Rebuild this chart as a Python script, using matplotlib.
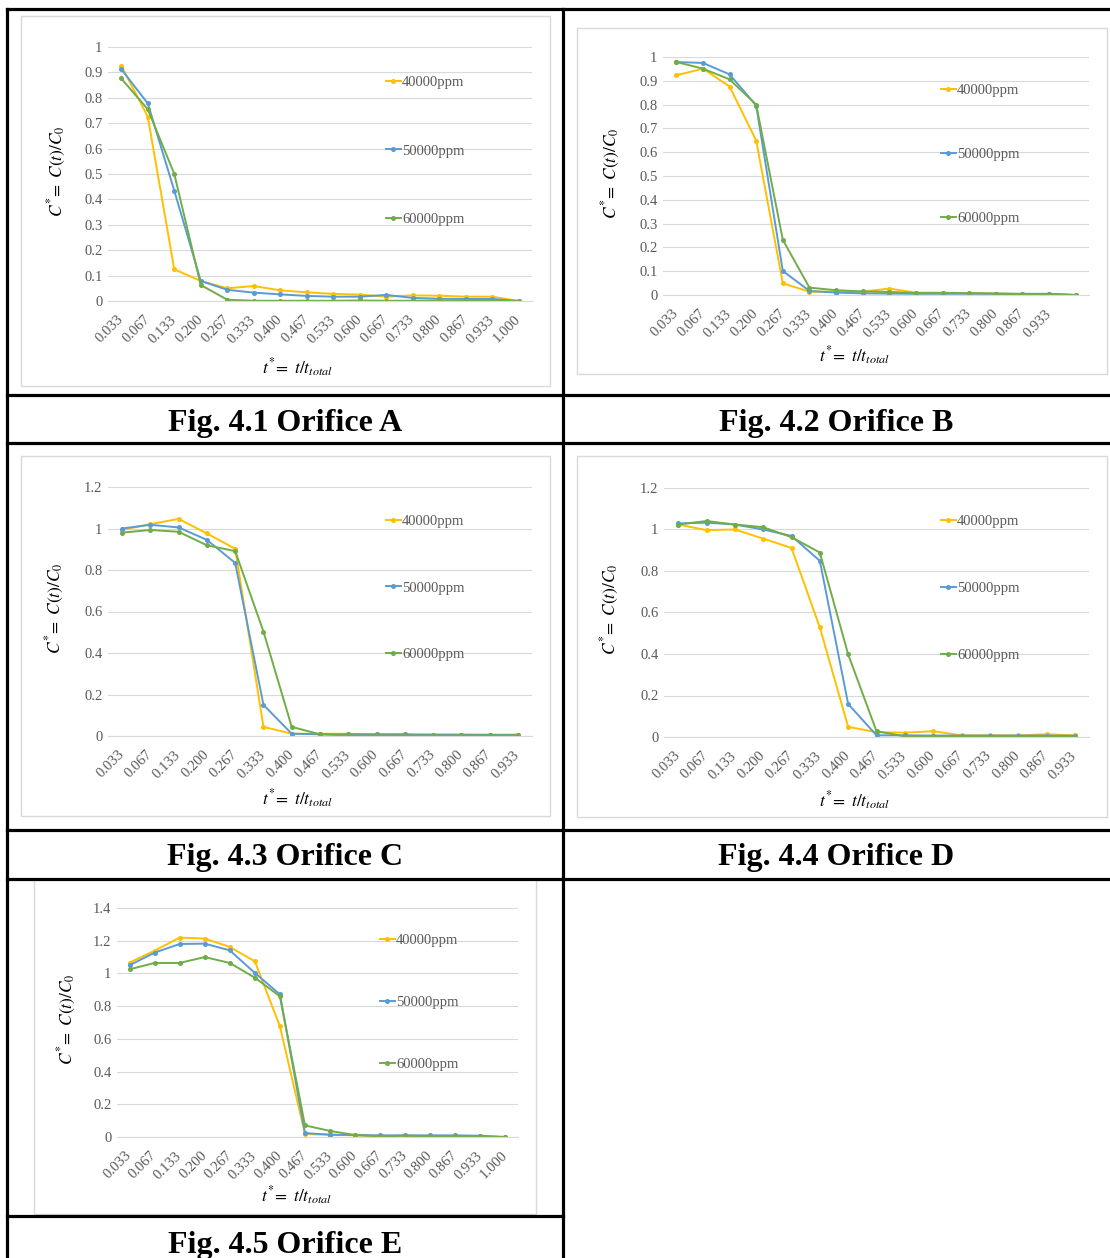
import matplotlib
matplotlib.use("Agg")
import matplotlib.pyplot as plt
from matplotlib.lines import Line2D
from matplotlib.patches import Rectangle

plt.rcParams['font.family'] = ['Liberation Serif', 'DejaVu Serif']
plt.rcParams['mathtext.fontset'] = 'stix'

W, H = 1110, 1258

# category labels (t* = t / t_total)
cats = ["0.033", "0.067", "0.133", "0.200", "0.267", "0.333", "0.400", "0.467",
        "0.533", "0.600", "0.667", "0.733", "0.800", "0.867", "0.933", "1.000"]
cats_b = cats[:15] + [""]
cats_cd = cats[:15]

series_names = ["40000ppm", "50000ppm", "60000ppm"]
colors = ["#FFC000", "#5B9BD5", "#70AD47"]

# Orifice A
a_40k = [0.927, 0.726, 0.125, 0.079, 0.050, 0.059, 0.042, 0.034, 0.028, 0.025, 0.017, 0.022, 0.021, 0.017, 0.017, 0.0]
a_50k = [0.913, 0.778, 0.435, 0.079, 0.044, 0.033, 0.026, 0.020, 0.017, 0.017, 0.024, 0.012, 0.009, 0.008, 0.008, 0.0]
a_60k = [0.876, 0.755, 0.501, 0.063, 0.005, 0.001, 0.001, 0.001, 0.001, 0.002, 0.001, 0.001, 0.002, 0.001, 0.001, 0.0]
# Orifice B
b_40k = [0.923, 0.951, 0.876, 0.649, 0.049, 0.014, 0.014, 0.014, 0.027, 0.010, 0.010, 0.008, 0.006, 0.004, 0.004, 0.0]
b_50k = [0.979, 0.975, 0.927, 0.796, 0.101, 0.017, 0.010, 0.007, 0.006, 0.005, 0.005, 0.005, 0.005, 0.005, 0.005, 0.0]
b_60k = [0.979, 0.951, 0.906, 0.800, 0.232, 0.031, 0.020, 0.015, 0.013, 0.008, 0.008, 0.008, 0.006, 0.004, 0.004, 0.0]
# Orifice C
c_40k = [0.993, 1.021, 1.046, 0.976, 0.902, 0.044, 0.011, 0.011, 0.011, 0.008, 0.008, -0.002, 0.005, 0.007, 0.007]
c_50k = [1.000, 1.018, 1.005, 0.945, 0.834, 0.150, 0.011, 0.008, 0.008, 0.008, 0.008, 0.007, 0.007, 0.005, 0.004]
c_60k = [0.980, 0.993, 0.984, 0.919, 0.891, 0.503, 0.044, 0.008, 0.003, 0.003, 0.003, 0.003, 0.003, 0.003, 0.003]
# Orifice D
d_40k = [1.024, 0.997, 1.000, 0.956, 0.911, 0.528, 0.049, 0.023, 0.021, 0.028, 0.008, 0.008, 0.008, 0.013, 0.008]
d_50k = [1.029, 1.033, 1.024, 1.000, 0.969, 0.849, 0.159, 0.008, 0.008, 0.007, 0.007, 0.007, 0.007, 0.007, 0.006]
d_60k = [1.024, 1.041, 1.024, 1.011, 0.963, 0.889, 0.398, 0.028, 0.003, 0.003, 0.003, 0.000, 0.002, 0.000, 0.002]
# Orifice E
e_40k = [1.066, 1.139, 1.219, 1.213, 1.162, 1.074, 0.677, 0.018, 0.014, 0.010, 0.006, 0.008, 0.006, 0.006, 0.000, 0.000]
e_50k = [1.050, 1.127, 1.180, 1.182, 1.141, 1.003, 0.872, 0.024, 0.014, 0.012, 0.010, 0.010, 0.010, 0.010, 0.008, 0.000]
e_60k = [1.025, 1.064, 1.064, 1.100, 1.064, 0.974, 0.860, 0.071, 0.037, 0.012, 0.004, 0.008, 0.004, 0.004, 0.004, 0.000]

captions = ["Fig. 4.1 Orifice A", "Fig. 4.2 Orifice B", "Fig. 4.3 Orifice C",
            "Fig. 4.4 Orifice D", "Fig. 4.5 Orifice E"]


def frac(x0, y0, x1, y1):
    return [x0 / W, 1 - y1 / H, (x1 - x0) / W, (y1 - y0) / H]


fig = plt.figure(figsize=(W / 100, H / 100), dpi=100)


def chart(frame, plot, labels, data, ymax, ystep, leg_xy, leg_gap, ylab_x, xlab_xy):
    # light gray chart-area border
    fx0, fy0, fx1, fy1 = frame
    fig.add_artist(Rectangle((fx0 / W, 1 - fy1 / H), (fx1 - fx0) / W, (fy1 - fy0) / H,
                             transform=fig.transFigure, fill=False,
                             edgecolor="#d9d9d9", linewidth=1.0))
    ax = fig.add_axes(frac(*plot))
    for vals, c, name in zip(data, colors, series_names):
        ax.plot(range(len(vals)), vals, color=c, lw=1.4, marker="o", ms=2.6, label=name)
    ax.set_xlim(-0.5, len(labels) - 0.5)
    ax.set_ylim(0, ymax)
    n = int(round(ymax / ystep))
    yt = [i * ystep for i in range(n + 1)]
    ax.set_yticks(yt)
    ax.set_yticklabels([f"{round(v, 1):g}" for v in yt], fontsize=10.5, color="#595959")
    ax.set_xticks(range(len(labels)))
    ax.set_xticklabels(labels, rotation=45, ha="right", va="center",
                       rotation_mode="anchor", fontsize=10.5, color="#595959")
    ax.tick_params(length=0, axis="both")
    ax.tick_params(axis="x", pad=12)
    ax.tick_params(axis="y", pad=4)
    ax.grid(axis="y", color="#d9d9d9", lw=0.8)
    ax.set_axisbelow(True)
    for s in ["top", "right", "left"]:
        ax.spines[s].set_visible(False)
    ax.spines["bottom"].set_color("#d9d9d9")
    ax.spines["bottom"].set_linewidth(0.8)
    ax.patch.set_alpha(0)
    # axis titles
    pcy = (plot[1] + plot[3]) / 2
    fig.text(ylab_x / W, 1 - (pcy - 3) / H, r"$C^{*}\!=\ C(t)/C_0$", rotation=90,
             ha="center", va="center", fontsize=12.5)
    fig.text(xlab_xy[0] / W, 1 - xlab_xy[1] / H, r"$t^{*}\!=\ t/t_{total}$",
             ha="center", va="center", fontsize=12.5)
    # legend
    lx, ly = leg_xy
    handles = [Line2D([0], [0], color=c, lw=1.4, marker="o", ms=2.6) for c in colors]
    fs = 10.5 * 100 / 72
    ax.legend(handles, series_names, loc="upper left", frameon=False,
              bbox_to_anchor=(lx / W, 1 - (ly - 6) / H), bbox_transform=fig.transFigure,
              fontsize=10.5, labelcolor="#595959", handlelength=1.0, handletextpad=0.1,
              labelspacing=(leg_gap - 0.85 * fs) / fs, borderpad=0, borderaxespad=0)
    return ax


chart((21, 16, 550, 386), (108, 47, 532, 301), cats, [a_40k, a_50k, a_60k],
      1.0, 0.1, (386, 82), 67.5, 57, (298, 368))
chart((577, 28, 1107, 374), (663, 57, 1089, 295), cats_b, [b_40k, b_50k, b_60k],
      1.0, 0.1, (941, 90), 63, 611, (855, 356))
chart((21, 456, 550, 816), (108, 487, 532, 736), cats_cd, [c_40k, c_50k, c_60k],
      1.2, 0.2, (386, 521), 65.5, 55, (298, 799))
chart((577, 456, 1107, 817), (664, 488, 1089, 737), cats_cd, [d_40k, d_50k, d_60k],
      1.2, 0.2, (941, 521), 66, 610, (855, 801))
chart((34, 879, 536, 1214), (117, 908, 518, 1137), cats, [e_40k, e_50k, e_60k],
      1.4, 0.2, (380, 940), 61, 67, (297, 1196))

# table grid lines
lw = 2.3
hlines = [(9, 7, 1110), (395, 7, 1110), (443, 7, 1110), (830, 7, 1110),
          (879, 7, 1110), (1216, 7, 563)]
for y, x0, x1 in hlines:
    fig.add_artist(Line2D([x0 / W, x1 / W], [1 - y / H, 1 - y / H],
                          transform=fig.transFigure, color="black", lw=lw))
for xv in [7, 563]:
    fig.add_artist(Line2D([xv / W, xv / W], [1 - 9 / H, 0],
                          transform=fig.transFigure, color="black", lw=lw))

# captions
cap_pos = [(285, 423), (836, 423), (285, 858), (836, 858), (285, 1245)]
for (cx, cy), txt in zip(cap_pos, captions):
    fig.text(cx / W, 1 - cy / H, txt, ha="center", va="center",
             fontsize=23, fontweight="bold")

fig.savefig("out.png", dpi=100)
